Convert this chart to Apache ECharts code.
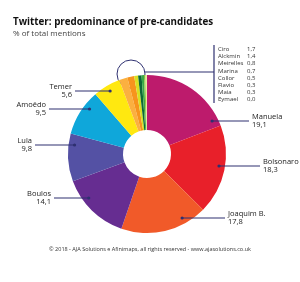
<!DOCTYPE html>
<html>
<head>
<meta charset="utf-8">
<script src="https://cdn.jsdelivr.net/npm/echarts@6/dist/echarts.min.js"></script>
<style>
  html, body { margin: 0; padding: 0; background: #fff; }
  #chart { width: 300px; height: 282px; }
</style>
</head>
<body>
<div id="chart"></div>
<script>
// share of total mentions, %
const names = ['Manuela', 'Bolsonaro', 'Joaquim B.', 'Boulos', 'Lula', 'Amoêdo', 'Temer',
  'Ciro', 'Alckmin', 'Meirelles', 'Marina', 'Collor', 'Flavio', 'Maia', 'Eymael'];
const shares = [19.1, 18.3, 17.8, 14.1, 9.8, 9.5, 5.6, 1.7, 1.4, 0.8, 0.7, 0.5, 0.3, 0.3, 0.0];
const colors = ['#bd1b6c', '#e8202a', '#f15a29', '#662d91', '#5451a4', '#0fa7da', '#ffe810',
  '#fbb040', '#f7941d', '#d9e021', '#0c6b35', '#39a845', '#8dc63f', '#e6ef9a', '#ffffff'];
const firstMinor = 7; // from here on the slices go in the side list

const navy = '#2e3070';
const cx = 147, cy = 154;
const fmt = v => v.toFixed(1).replace('.', ',');

// where each big label sits: [x, y, align]
const labelSpots = {
  'Manuela': [252, 121, 'left'],
  'Bolsonaro': [263, 166, 'left'],
  'Joaquim B.': [228, 218, 'left'],
  'Boulos': [51, 198, 'right'],
  'Lula': [32, 145, 'right'],
  'Amoêdo': [46, 109, 'right'],
  'Temer': [72, 91, 'right']
};
const dotR = 73;
const leaders = [];

const chart = echarts.init(document.getElementById('chart'), null, {renderer: 'canvas'});

const pieData = names.map((n, i) => ({
  name: n,
  value: shares[i],
  itemStyle: {color: colors[i]},
  label: {show: i < firstMinor}
}));

// side list for the small ones
const listItems = [];
names.slice(firstMinor).forEach((n, k) => {
  const y = 50 + k * 7.1;
  listItems.push({type: 'text', id: 'ln' + k, left: 218, top: y - 3.5,
    style: {text: n, fontSize: 6, fontFamily: 'Open Sans', fill: '#333'}});
  listItems.push({type: 'text', id: 'lv' + k, left: 247, top: y - 3.5,
    style: {text: fmt(shares[firstMinor + k]), fontSize: 6, fontFamily: 'Open Sans', fill: '#333'}});
});

const option = {
  animation: false,
  title: {
    text: 'Twitter: predominance of pre-candidates',
    subtext: '% of total mentions',
    left: 8, top: 12,
    itemGap: 3,
    textStyle: {fontSize: 9.8, fontWeight: 'bold', fontFamily: 'Open Sans', color: '#111'},
    subtextStyle: {fontSize: 8, fontFamily: 'Open Sans', color: '#444'}
  },
  series: [{
    type: 'pie',
    center: [cx, cy],
    radius: [24, 79],
    startAngle: 90,
    clockwise: true,
    avoidLabelOverlap: false,
    silent: true,
    label: {
      position: 'outside',
      formatter: p => p.name + '\n' + fmt(p.value),
      fontSize: 7.5,
      lineHeight: 8,
      fontFamily: 'Open Sans',
      color: '#222'
    },
    labelLine: {show: false},
    labelLayout: function (p) {
      const spot = labelSpots[names[p.dataIndex]];
      if (!spot) return {};
      const [x, y, align] = spot;
      const dy = y - cy;
      const dx = Math.sqrt(Math.max(dotR * dotR - dy * dy, 0));
      const ax = align === 'left' ? cx + dx : cx - dx;
      const ex = align === 'left' ? x - 3 : x + 3;
      leaders[p.dataIndex] = [ax, ex, y];
      return {x: x, y: y, align: align, verticalAlign: 'middle'};
    },
    data: pieData
  }],
  graphic: [
    {type: 'circle', id: 'ring', shape: {cx: 131, cy: 74, r: 14}, style: {fill: 'none', stroke: navy, lineWidth: 1}},
    {type: 'line', id: 'hline', shape: {x1: 145, y1: 72, x2: 214, y2: 72}, style: {stroke: navy, lineWidth: 1.2}},
    {type: 'line', id: 'vline', shape: {x1: 214, y1: 45, x2: 214, y2: 103}, style: {stroke: navy, lineWidth: 1.2}},
    ...listItems,
    {type: 'text', id: 'foot', left: 'center', top: 246,
      style: {text: '© 2018 - AJA Solutions e Afinimaps, all rights reserved - www.ajasolutions.co.uk',
        fontSize: 5.5, fontFamily: 'Open Sans', fill: '#333'}}
  ]
};
chart.setOption(option);

// leader lines with a dot where they start inside the slices
const extra = [];
leaders.forEach((l, i) => {
  if (!l) return;
  extra.push({type: 'line', id: 'lead' + i, z: 10,
    shape: {x1: l[0], y1: l[2], x2: l[1], y2: l[2]}, style: {stroke: navy, lineWidth: 1.2}});
  extra.push({type: 'circle', id: 'dot' + i, z: 11,
    shape: {cx: l[0], cy: l[2], r: 1.6}, style: {fill: navy}});
});
chart.setOption({graphic: extra});
</script>
</body>
</html>
